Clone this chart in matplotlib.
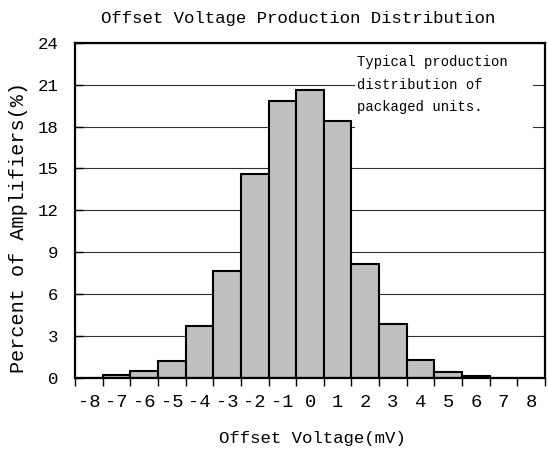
import matplotlib
matplotlib.use("Agg")
import matplotlib.pyplot as plt
from matplotlib.patches import Rectangle
import numpy as np

# offset voltage bins (mV) and percent of amplifiers in each
voltages = [-8, -7, -6, -5, -4, -3, -2, -1, 0, 1, 2, 3, 4, 5, 6, 7, 8]
percent = [0.0, 0.2, 0.49, 1.21, 3.67, 7.64, 14.62, 19.87, 20.64, 18.4,
           8.12, 3.84, 1.29, 0.37, 0.1, 0.0, 0.0]
y_ticks = [0, 3, 6, 9, 12, 15, 18, 21, 24]

plt.rcParams['font.family'] = ['Liberation Mono', 'DejaVu Sans']

fig = plt.figure(figsize=(5.48, 4.55), dpi=100)
ax = fig.add_axes([0.137, 0.1703, 0.8575, 0.7352])

ax.bar(voltages, percent, width=1.0, color='#c0c0c0', edgecolor='black',
       linewidth=1.5, zorder=3)

ax.set_xlim(-8.5, 8.5)
ax.set_ylim(0, 24)

# labels at bin centres, tick marks at bin edges
ax.set_xticks(voltages)
ax.set_xticklabels([str(v) for v in voltages], fontsize=13.5)
ax.set_xticks(np.arange(-8.5, 9.0, 1.0), minor=True)
ax.tick_params(axis='x', which='major', length=0, pad=12)
ax.tick_params(axis='x', which='minor', length=6, width=1, direction='out')

ax.set_yticks(y_ticks)
ax.set_yticklabels([str(v) for v in y_ticks], fontsize=12.5)
ax.tick_params(axis='y', which='major', length=6, width=1, direction='in', pad=12)

ax.grid(axis='y', color='#303030', linewidth=0.8, zorder=0)
ax.set_axisbelow(True)

for s in ax.spines.values():
    s.set_linewidth(1.6)
    s.set_zorder(5)

ax.set_xlabel('Offset Voltage(mV)', fontsize=12.5)
ax.xaxis.set_label_coords(0.504, -0.16)
ax.set_ylabel('Percent of Amplifiers(%)', fontsize=14.5)
ax.yaxis.set_label_coords(-0.1, 0.447)

fig.text(298 / 548, 1 - 18 / 455, 'Offset Voltage Production Distribution',
         fontsize=12.5, ha='center', va='center')

# white patch behind the note hides the gridlines
ax.add_patch(Rectangle((0.596, 0.71), 0.378, 0.27, transform=ax.transAxes,
                       facecolor='white', edgecolor='none', zorder=2))
ax.text(0.601, 0.963, 'Typical production\ndistribution of\npackaged units.',
        transform=ax.transAxes, fontsize=10, va='top', ha='left',
        linespacing=1.75, zorder=4)

fig.savefig('out.png', dpi=100)
